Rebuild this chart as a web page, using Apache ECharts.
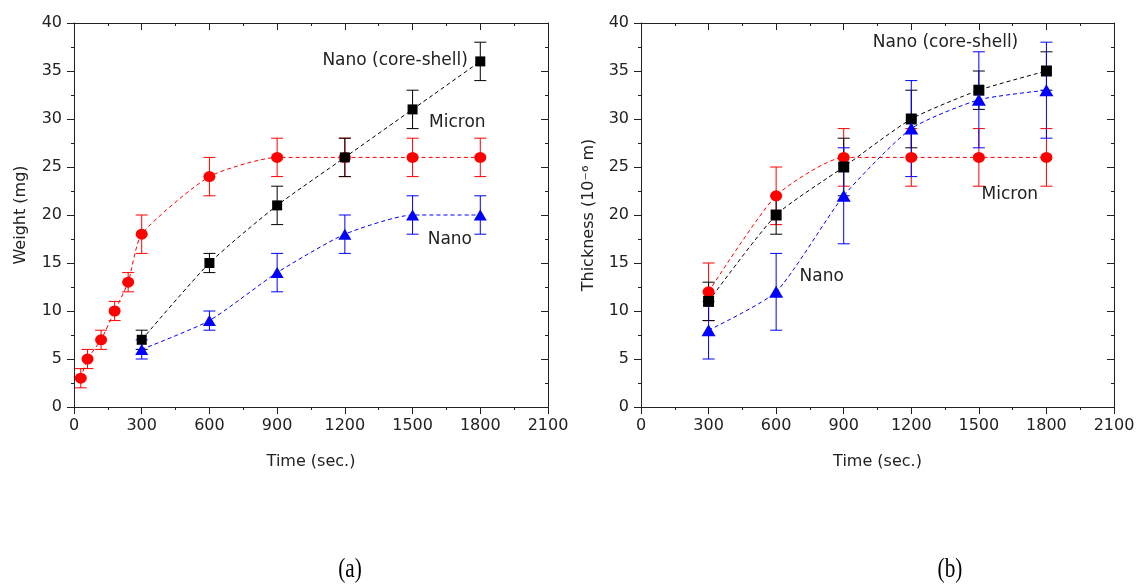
<!DOCTYPE html>
<html>
<head>
<meta charset="utf-8">
<script src="https://cdn.jsdelivr.net/npm/echarts@6/dist/echarts.min.js"></script>
<style>
  html, body { margin: 0; padding: 0; background: #fff; }
  #chart { width: 1140px; height: 587px; }
</style>
</head>
<body>
<div id="chart"></div>
<script>
// Time axis ticks (seconds)
const timeTicks = [0, 300, 600, 900, 1200, 1500, 1800, 2100];

// (a) weight gain, mg
const timeMicronA = [30, 60, 120, 180, 240, 300, 600, 900, 1200, 1500, 1800];
const weightMicron = [3, 5, 7, 10, 13, 18, 24, 26, 26, 26, 26];
const weightMicronErr = [1, 1, 1, 1, 1, 2, 2, 2, 2, 2, 2];

const timeStd = [300, 600, 900, 1200, 1500, 1800];
const weightCoreShell = [7, 15, 21, 26, 31, 36];
const weightCoreShellErr = [1, 1, 2, 2, 2, 2];
const weightNano = [6, 9, 14, 18, 20, 20];
const weightNanoErr = [1, 1, 2, 2, 2, 2];

// (b) coating thickness, 10^-6 m
const thickMicron = [12, 22, 26, 26, 26, 26];
const thickMicronErr = [3, 3, 3, 3, 3, 3];
const thickCoreShell = [11, 20, 25, 30, 33, 35];
const thickCoreShellErr = [2, 2, 3, 3, 2, 2];
const thickNano = [8, 12, 22, 29, 32, 33];
const thickNanoErr = [3, 4, 5, 5, 5, 5];

// In-plot labels, anchored in data coordinates
const notesA = [
  { text: 'Nano (core-shell)', x: 1745, y: 36.1, align: 'right' },
  { text: 'Micron', x: 1573, y: 29.6, align: 'left' },
  { text: 'Nano', x: 1567, y: 17.4, align: 'left' }
];
const notesB = [
  { text: 'Nano (core-shell)', x: 1029, y: 38.0, align: 'left' },
  { text: 'Micron', x: 1512, y: 22.1, align: 'left' },
  { text: 'Nano', x: 704, y: 13.6, align: 'left' }
];

const RED = '#ff0000', BLACK = '#000000', BLUE = '#0000ff';
const FONT = 'DejaVu Sans';
const INK = '#222';

const zip = (xs, ys) => xs.map((x, i) => [x, ys[i]]);
const bars = (xs, ys, es) => xs.map((x, i) => [x, ys[i] - es[i], ys[i] + es[i]]);

function errorSeries(idx, xs, ys, es, color) {
  return {
    type: 'custom',
    xAxisIndex: idx * 2, yAxisIndex: idx * 2,
    data: bars(xs, ys, es),
    z: 3,
    silent: true,
    renderItem: function (params, api) {
      const x = api.value(0);
      const lo = api.coord([x, api.value(1)]);
      const hi = api.coord([x, api.value(2)]);
      const w = 6;
      const st = { stroke: color, lineWidth: 1 };
      return {
        type: 'group',
        children: [
          { type: 'line', shape: { x1: lo[0], y1: lo[1], x2: hi[0], y2: hi[1] }, style: st },
          { type: 'line', shape: { x1: lo[0] - w, y1: lo[1], x2: lo[0] + w, y2: lo[1] }, style: st },
          { type: 'line', shape: { x1: hi[0] - w, y1: hi[1], x2: hi[0] + w, y2: hi[1] }, style: st }
        ]
      };
    }
  };
}

function lineSeries(idx, xs, ys, color, symbol, size) {
  return {
    type: 'line',
    xAxisIndex: idx * 2, yAxisIndex: idx * 2,
    data: zip(xs, ys),
    smooth: 0.2,
    symbol: symbol,
    symbolSize: size,
    showSymbol: true,
    z: 4,
    silent: true,
    itemStyle: { color: color, borderWidth: 0 },
    lineStyle: { color: color, width: 1, type: [4, 3] }
  };
}

function noteSeries(idx, notes) {
  return {
    type: 'custom',
    xAxisIndex: idx * 2, yAxisIndex: idx * 2,
    data: notes.map(n => [n.x, n.y]),
    z: 6,
    silent: true,
    renderItem: function (params, api) {
      const n = notes[params.dataIndex];
      const p = api.coord([api.value(0), api.value(1)]);
      return {
        type: 'text',
        x: p[0], y: p[1],
        style: {
          text: n.text,
          fill: INK,
          font: '17px "' + FONT + '"',
          align: n.align,
          verticalAlign: 'middle'
        }
      };
    }
  };
}

const axisLine = { show: true, onZero: false, lineStyle: { color: INK, width: 1 } };
const labelStyle = { color: INK, fontFamily: FONT, fontSize: 16 };
const plain = v => String(v);

function xAxes(gridIndex) {
  const base = {
    type: 'value', gridIndex: gridIndex,
    min: timeTicks[0], max: timeTicks[timeTicks.length - 1], interval: 300,
    splitLine: { show: false },
    axisLine: axisLine,
    minorTick: { show: true, splitNumber: 2, length: 3, lineStyle: { color: INK } }
  };
  return [
    Object.assign({}, base, {
      position: 'bottom',
      axisTick: { show: true, length: 7, lineStyle: { color: INK } },
      axisLabel: Object.assign({ margin: 11, formatter: plain }, labelStyle),
      name: 'Time (sec.)', nameLocation: 'middle', nameGap: 47,
      nameTextStyle: { color: INK, fontFamily: FONT, fontSize: 16 }
    }),
    Object.assign({}, base, {
      position: 'top',
      axisTick: { show: true, inside: true, length: 7, lineStyle: { color: INK } },
      axisLabel: { show: false }
    })
  ];
}

function yAxes(gridIndex, name, nameGap) {
  const base = {
    type: 'value', gridIndex: gridIndex,
    min: 0, max: 40, interval: 5,
    splitLine: { show: false },
    axisLine: axisLine,
    minorTick: { show: true, splitNumber: 2, length: 3, lineStyle: { color: INK } }
  };
  return [
    Object.assign({}, base, {
      position: 'left',
      axisTick: { show: true, length: 7, lineStyle: { color: INK } },
      axisLabel: Object.assign({ margin: 12, formatter: plain }, labelStyle),
      name: name, nameLocation: 'middle', nameGap: nameGap,
      nameTextStyle: { color: INK, fontFamily: FONT, fontSize: 16 }
    }),
    Object.assign({}, base, {
      position: 'right',
      axisTick: { show: true, inside: true, length: 7, lineStyle: { color: INK } },
      axisLabel: { show: false }
    })
  ];
}

const chart = echarts.init(document.getElementById('chart'), null, { renderer: 'canvas' });

chart.setOption({
  animation: false,
  backgroundColor: '#ffffff',
  grid: [
    { left: 74, right: 592, top: 23, bottom: 180 },
    { left: 641, right: 26, top: 23, bottom: 180 }
  ],
  xAxis: xAxes(0).concat(xAxes(1)),
  yAxis: yAxes(0, 'Weight (mg)', 45).concat(yAxes(1, 'Thickness (10⁻⁶ m)', 44)),
  graphic: [
    { type: 'text', x: 350, y: 570, scaleX: 0.85, scaleY: 1.1,
      style: { text: '(a)', font: '25px "Liberation Serif"', fill: '#000', align: 'center', verticalAlign: 'middle' } },
    { type: 'text', x: 950, y: 570, scaleX: 0.85, scaleY: 1.1,
      style: { text: '(b)', font: '25px "Liberation Serif"', fill: '#000', align: 'center', verticalAlign: 'middle' } }
  ],
  series: [
    // (a) Weight
    errorSeries(0, timeMicronA, weightMicron, weightMicronErr, RED),
    errorSeries(0, timeStd, weightCoreShell, weightCoreShellErr, BLACK),
    errorSeries(0, timeStd, weightNano, weightNanoErr, BLUE),
    lineSeries(0, timeMicronA, weightMicron, RED, 'circle', [12, 11]),
    lineSeries(0, timeStd, weightCoreShell, BLACK, 'rect', 10),
    lineSeries(0, timeStd, weightNano, BLUE, 'triangle', [13, 11]),
    noteSeries(0, notesA),
    // (b) Thickness
    errorSeries(1, timeStd, thickMicron, thickMicronErr, RED),
    errorSeries(1, timeStd, thickCoreShell, thickCoreShellErr, BLACK),
    errorSeries(1, timeStd, thickNano, thickNanoErr, BLUE),
    lineSeries(1, timeStd, thickMicron, RED, 'circle', [12, 11]),
    lineSeries(1, timeStd, thickCoreShell, BLACK, 'rect', 11),
    lineSeries(1, timeStd, thickNano, BLUE, 'triangle', [14, 12]),
    noteSeries(1, notesB)
  ]
});
</script>
</body>
</html>
